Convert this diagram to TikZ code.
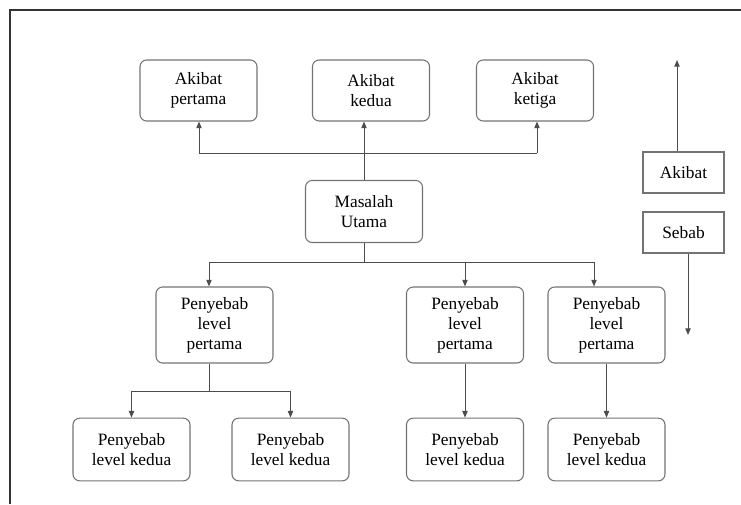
\documentclass[tikz,border=0pt]{standalone}
\usepackage{fontspec}
\setmainfont{Liberation Serif}
\usepackage{tikz}
\usetikzlibrary{arrows}
\usetikzlibrary{arrows.meta}

\tikzset{
  kotak/.style={draw=black!55, line width=0.8pt, rounded corners=5pt, align=center,
    minimum width=87.75pt, inner sep=2pt, font=\fontsize{13}{15}\selectfont},
  label/.style={draw=black!55, line width=0.8pt, align=center,
    minimum width=60.75pt, minimum height=30.75pt, inner sep=2pt, font=\fontsize{13}{15}\selectfont},
  garis/.style={draw=black!70, line width=0.75pt},
  panah/.style={garis, -{Triangle[length=5pt,width=4pt]}}
}

\begin{document}
\begin{tikzpicture}[x=0.75pt,y=-0.75pt]
%\draw[help lines, color=gray!30, dashed] (0,0) grid[step=50] (741,504);
\useasboundingbox (0,0) rectangle (741,504);
\draw[line width=2pt, black!80] (10,504)--(10,10)--(741,10);

\node[kotak, minimum height=45.75pt] (akb1) at (198.5,90.5) {Akibat\\pertama};
\node[kotak, minimum height=45.75pt] (akb2) at (371,90.5) {Akibat\\kedua};
\node[kotak, minimum height=45.75pt] (akb3) at (535,90.5) {Akibat\\ketiga};

\node[kotak, minimum height=46.5pt] (mas) at (364,211.5) {Masalah\\Utama};

\node[kotak, minimum height=57pt] (pp1) at (214.5,325) {Penyebab\\level\\pertama};
\node[kotak, minimum height=57pt] (pp2) at (465,325) {Penyebab\\level\\pertama};
\node[kotak, minimum height=57pt] (pp3) at (606.5,325) {Penyebab\\level\\pertama};

\node[kotak, minimum height=47pt] (kd1) at (131.5,449.5) {Penyebab\\level kedua};
\node[kotak, minimum height=47pt] (kd2) at (290.5,449.5) {Penyebab\\level kedua};
\node[kotak, minimum height=47pt] (kd3) at (465,449.5) {Penyebab\\level kedua};
\node[kotak, minimum height=47pt] (kd4) at (606.5,449.5) {Penyebab\\level kedua};

\node[label] (akibat) at (683.5,172.5) {Akibat};
\node[label] (sebab) at (683.5,232.5) {Sebab};


% akibat
\coordinate (a1) at (199,153);
\coordinate (a3) at (537,153);
\draw[garis] (a1)--(a3);
\draw[panah] (a1)--(a1 |- akb1.south);
\draw[panah] (a3)--(a3 |- akb3.south);
\draw[panah] (mas.north)--(mas.north |- akb2.south);


% penyebab level pertama
\coordinate (b1) at (209,262);
\coordinate (b3) at (594,262);
\draw[garis] (mas.south)--(mas.south |- b1);
\draw[garis] (b1)--(b3);
\draw[panah] (b1)--(b1 |- pp1.north);
\draw[panah] (pp2.north |- b1)--(pp2.north);
\draw[panah] (b3)--(b3 |- pp3.north);


% penyebab level kedua
\coordinate (c1) at (209,391);
\draw[garis] (c1 |- pp1.south)--(c1);
\draw[panah] (c1)-|(kd1.north);
\draw[panah] (c1)-|(kd2.north);
\draw[panah] (pp2.south)--(kd3.north);
\draw[panah] (pp3.south)--(kd4.north);


% arah
\coordinate (up) at (677,60);
\coordinate (dn) at (688,335);
\draw[panah] (up |- akibat.north)--(up);
\draw[panah] (dn |- sebab.south)--(dn);

\end{tikzpicture}
\end{document}
